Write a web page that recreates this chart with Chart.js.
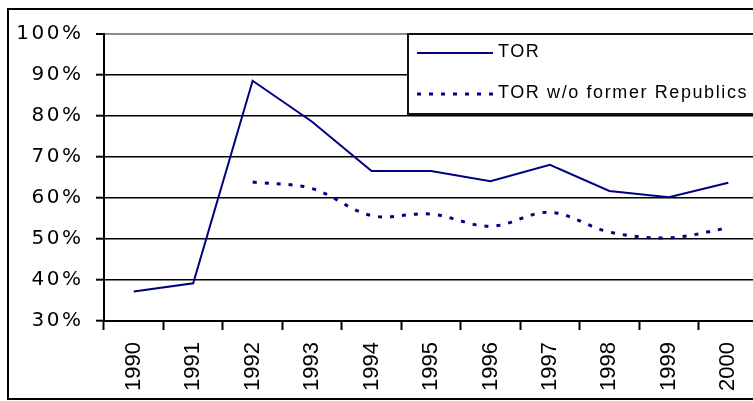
<!DOCTYPE html>
<html>
<head>
<meta charset="utf-8">
<script src="https://cdn.jsdelivr.net/npm/chart.js@4/dist/chart.umd.min.js"></script>
<style>
  html, body { margin: 0; padding: 0; background: #fff; overflow: hidden; }
  #wrap { width: 753px; height: 401px; overflow: hidden; position: relative; }
  canvas { display: block; }
</style>
</head>
<body>
<div id="wrap"><canvas id="c" width="800" height="401"></canvas></div>
<script>
const years = ['1990','1991','1992','1993','1994','1995','1996','1997','1998','1999','2000'];
const torValues = [37.2, 39.2, 88.6, 78.6, 66.6, 66.6, 64.1, 68.1, 61.7, 60.2, 63.7];
const torWoValues = [null, null, 63.9, 62.3, 55.7, 56.1, 53.1, 56.5, 51.7, 50.3, 52.7];
const seriesLabels = ['TOR', 'TOR w/o former Republics'];
const yTicks = [30, 40, 50, 60, 70, 80, 90, 100];

const NAVY = '#000080';

const spacingPlugin = {
  id: 'spacing',
  beforeDraw(chart) { chart.ctx.letterSpacing = '2.5px'; },
  beforeDatasetsDraw(chart) { chart.ctx.letterSpacing = '0px'; }
};

const framePlugin = {
  id: 'frame',
  beforeDraw(chart) {
    const ctx = chart.ctx;
    ctx.save();
    ctx.fillStyle = '#fff';
    ctx.fillRect(0, 0, chart.width, chart.height);
    ctx.restore();
  },
  afterDraw(chart) {
    const ctx = chart.ctx;
    ctx.save();
    ctx.letterSpacing = '0px';
    ctx.strokeStyle = '#000';
    ctx.lineWidth = 2;
    ctx.strokeRect(8, 9, 900, 390);
    const lx = 408, ly = 34, lw = 420, lh = 80;
    ctx.fillStyle = '#fff';
    ctx.fillRect(lx, ly, lw, lh);
    ctx.strokeStyle = '#111';
    ctx.lineWidth = 2;
    ctx.strokeRect(lx, ly, lw, lh);
    const ds = chart.data.datasets;
    const rows = [53, 94];
    ds.forEach((d, i) => {
      const y = rows[i];
      ctx.beginPath();
      ctx.strokeStyle = d.borderColor;
      ctx.lineWidth = d.borderWidth;
      ctx.setLineDash(d.borderDash || []);
      ctx.moveTo(417, y);
      ctx.lineTo(493, y);
      ctx.stroke();
      ctx.setLineDash([]);
      ctx.fillStyle = '#000';
      ctx.font = '18px "Liberation Sans", Arial, sans-serif';
      ctx.letterSpacing = '1.6px';
      ctx.textBaseline = 'middle';
      ctx.textAlign = 'left';
      ctx.fillText(d.label, 498, y - 1);
      ctx.letterSpacing = '0px';
    });
    ctx.restore();
  }
};

new Chart(document.getElementById('c'), {
  type: 'line',
  data: {
    labels: years,
    datasets: [
      {
        label: seriesLabels[0],
        data: torValues,
        borderColor: NAVY,
        backgroundColor: NAVY,
        borderWidth: 2,
        pointRadius: 0,
        tension: 0,
        fill: false
      },
      {
        label: seriesLabels[1],
        data: torWoValues,
        borderColor: NAVY,
        backgroundColor: NAVY,
        borderWidth: 3,
        borderDash: [4, 8],
        pointRadius: 0,
        tension: 0.35,
        fill: false
      }
    ]
  },
  options: {
    responsive: false,
    animation: false,
    devicePixelRatio: 1,
    layout: { padding: { left: 0, top: 34, right: 42, bottom: 0 } },
    plugins: {
      legend: { display: false },
      tooltip: { enabled: false },
      title: { display: false }
    },
    scales: {
      x: {
        type: 'category',
        offset: true,
        afterFit(scale) { scale.height = 80; },
        grid: {
          display: true,
          drawOnChartArea: false,
          drawTicks: true,
          tickLength: 9,
          tickWidth: 2,
          tickColor: '#000',
          offset: true
        },
        border: { display: true, color: '#000', width: 2 },
        ticks: {
          z: 1,
          minRotation: 90,
          maxRotation: 90,
          autoSkip: false,
          padding: 12,
          color: '#000',
          font: { family: '"Liberation Sans", Arial, sans-serif', size: 22 }
        }
      },
      y: {
        min: 30,
        max: 100,
        afterFit(scale) { scale.width = 104; },
        afterBuildTicks(scale) { scale.ticks = yTicks.map(v => ({ value: v })); },
        grid: {
          color: ctx => (ctx.tick && ctx.tick.value === 100) ? '#8a8a8a' : '#000',
          lineWidth: ctx => (ctx.tick && ctx.tick.value === 100) ? 2 : 1.4,
          tickColor: '#000',
          tickWidth: 2,
          tickLength: 8,
          drawTicks: true
        },
        border: { display: true, color: '#000', width: 2 },
        ticks: {
          padding: 12.5,
          color: '#000',
          font: { family: '"DejaVu Sans", sans-serif', size: 20 },
          callback: v => v + '%'
        }
      }
    }
  },
  plugins: [framePlugin, spacingPlugin]
});
</script>
</body>
</html>
